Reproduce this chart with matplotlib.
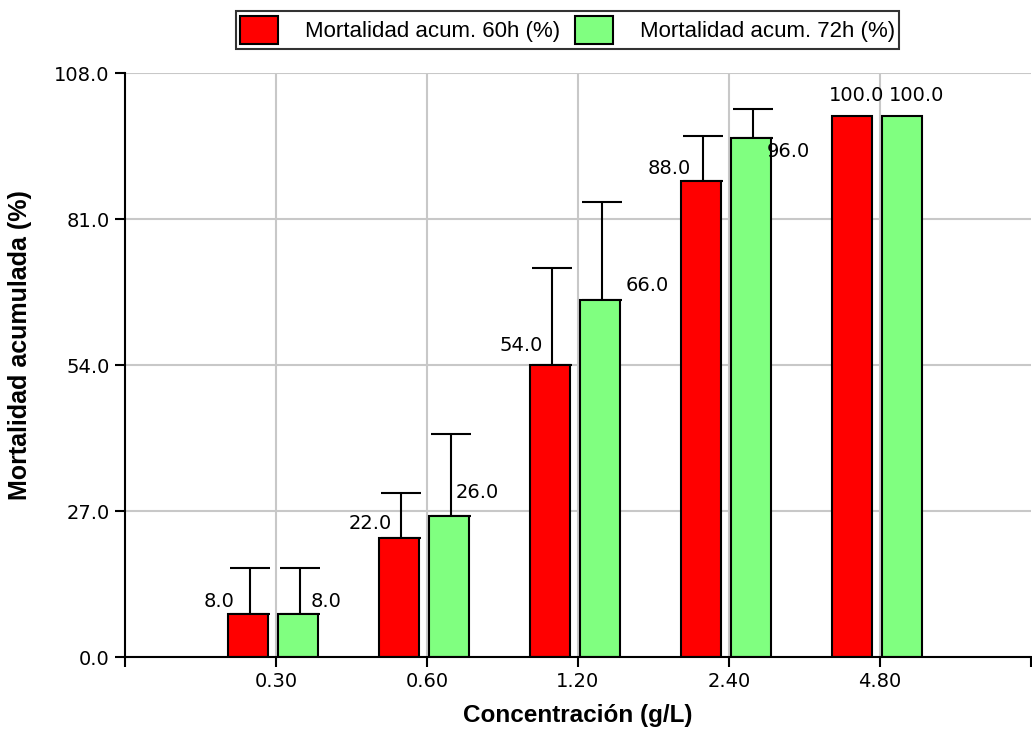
"""Mortalidad acumulada vs concentración: barras 60h / 72h con barras de error."""

import matplotlib
matplotlib.use("Agg")
import matplotlib.pyplot as plt
import numpy as np

# datos
concentraciones = ["0.30", "0.60", "1.20", "2.40", "4.80"]
mort_60h = [8.0, 22.0, 54.0, 88.0, 100.0]
mort_72h = [8.0, 26.0, 66.0, 96.0, 100.0]
err_60h = [8.4, 8.4, 17.9, 8.4, 0.0]
err_72h = [8.4, 15.2, 18.1, 5.3, 0.0]
yticks = [0.0, 27.0, 54.0, 81.0, 108.0]

# desplazamiento de las etiquetas de valor (px respecto a centro/tope de barra)
lab_off_60h = [(-13, 12), (-7, 15), (-7, 20), (-10, 13), (32, 21)]
lab_off_72h = [(13, 12), (7, 24), (26, 15), (16, -14), (-13, 21)]

RED = "#ff0000"
GREEN = "#80ff80"
NUM_FONT = "DejaVu Sans"
TXT_FONT = "Liberation Sans"
PX = 0.72  # puntos por pixel a 100 dpi

fig = plt.figure(figsize=(10.32, 7.31), dpi=100)
ax = fig.add_axes([0.1211, 0.1012, 0.8779, 0.7989])

x = np.arange(len(concentraciones))
w = 0.261
off_r, off_g = -0.186, 0.146

ax.bar(x + off_r, mort_60h, w, color=RED, edgecolor="black", linewidth=1.5, zorder=3,
       label="Mortalidad acum. 60h (%)")
ax.bar(x + off_g, mort_72h, w, color=GREEN, edgecolor="black", linewidth=1.5, zorder=3,
       label="Mortalidad acum. 72h (%)")

for off, vals, errs in [(off_r, mort_60h, err_60h), (off_g, mort_72h, err_72h)]:
    for xi, v, e in zip(x, vals, errs):
        if e > 0:
            ax.errorbar(xi + off + 0.015, v, yerr=[[0], [e]], fmt="none", ecolor="black",
                        elinewidth=1.5, capsize=14.5, capthick=1.5, zorder=2)

# etiquetas de valor
for off, vals, offs, ha in [(off_r, mort_60h, lab_off_60h, "right"),
                            (off_g, mort_72h, lab_off_72h, "left")]:
    for xi, v, (dx, dy) in zip(x, vals, offs):
        ax.annotate(f"{v:.1f}", (xi + off, v), xytext=(dx * PX, dy * PX),
                    textcoords="offset points", ha=ha, va="center",
                    fontsize=14, family=NUM_FONT, zorder=4)

ax.set_xlim(-1, 5)
ax.set_ylim(0, 108)
ax.set_xticks(x)
ax.set_xticklabels(concentraciones, family=NUM_FONT, fontsize=14)
ax.set_xticks([-1, 5], minor=True)
ax.set_yticks(yticks)
ax.set_yticklabels([f"{t:.1f}" for t in yticks], family=NUM_FONT, fontsize=14)

ax.tick_params(axis="both", which="both", direction="out", length=7, width=1.5,
               color="black", pad=4)
ax.grid(True, which="major", color="#c8c8c8", linewidth=1.5, zorder=0)
ax.set_axisbelow(True)

for s in ["top", "right"]:
    ax.spines[s].set_visible(False)
for s in ["left", "bottom"]:
    ax.spines[s].set_linewidth(1.5)
    ax.spines[s].set_zorder(5)

ax.set_xlabel("Concentración (g/L)", family=TXT_FONT, fontweight="bold", fontsize=17.5)
ax.set_ylabel("Mortalidad acumulada (%)", family=TXT_FONT, fontweight="bold", fontsize=18)
ax.xaxis.set_label_coords(0.5, -0.08)
ax.yaxis.set_label_coords(-0.103, 0.534)

leg = fig.legend(loc="center", bbox_to_anchor=(0.550, 0.959), ncol=2, frameon=True,
                 fancybox=False, edgecolor="black", prop={"family": TXT_FONT, "size": 16},
                 handlelength=1.7, handleheight=1.6, handletextpad=1.2, columnspacing=0.7,
                 borderpad=0.2, borderaxespad=0)
leg.get_frame().set_linewidth(1.5)

fig.savefig("out.png", dpi=100)
